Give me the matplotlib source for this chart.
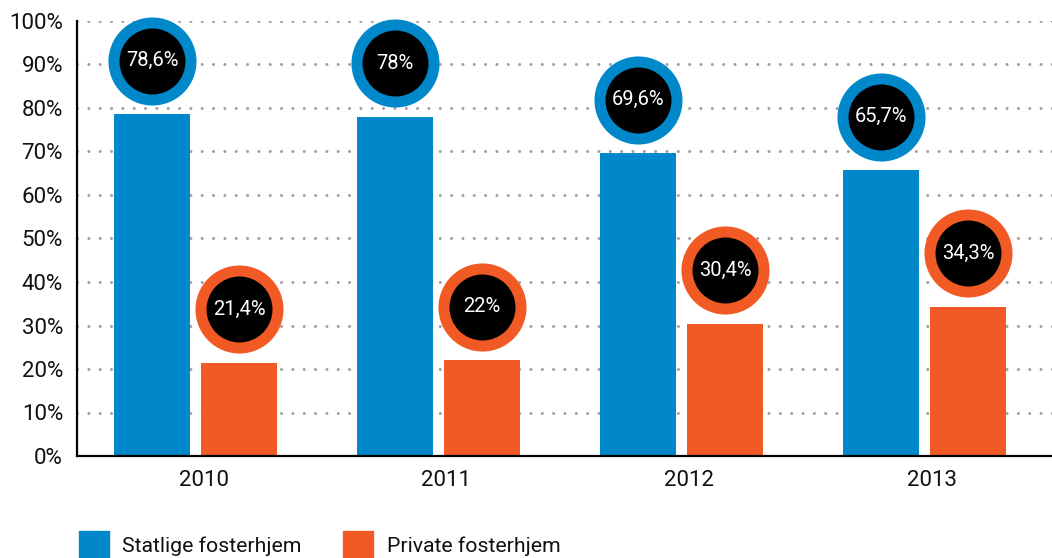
import numpy as np
import matplotlib
matplotlib.use("Agg")
import matplotlib.pyplot as plt
from matplotlib.patches import Rectangle

plt.rcParams["font.family"] = ["Roboto", "DejaVu Sans"]

# Data
years = ["2010", "2011", "2012", "2013"]
statlige = [78.6, 78.0, 69.6, 65.7]
private = [21.4, 22.0, 30.4, 34.3]
statlige_labels = ["78,6%", "78%", "69,6%", "65,7%"]
private_labels = ["21,4%", "22%", "30,4%", "34,3%"]
y_ticks = [0, 10, 20, 30, 40, 50, 60, 70, 80, 90, 100]
y_ticklabels = [f"{v}%" for v in y_ticks]

BLUE = "#0088CA"
ORANGE = "#F15A24"
GRID = "#A0A0A0"

fig = plt.figure(figsize=(10.52, 5.58), dpi=100)
ax = fig.add_axes([77 / 1052, 102 / 558, 975 / 1052, 435 / 558])

x = np.arange(len(years))
width = 0.313
offset = 0.179
circle_shift = 12.3

ax.bar(x - offset, statlige, width=width, color=BLUE, zorder=2)
ax.bar(x + offset, private, width=width, color=ORANGE, zorder=2)

# Sirkler med verdier over søylene
for xs, vals, labels, col in [(x - offset, statlige, statlige_labels, BLUE),
                              (x + offset, private, private_labels, ORANGE)]:
    yc = np.array(vals) + circle_shift
    ax.scatter(xs, yc, s=4020, color=col, linewidths=0, zorder=3, clip_on=False)
    ax.scatter(xs, yc, s=2258, color="black", linewidths=0, zorder=4, clip_on=False)
    for xi, yi, lab in zip(xs, yc, labels):
        ax.text(xi, yi, lab, color="white", fontsize=14.5, ha="center",
                va="center", zorder=5)

ax.set_xlim(-0.4877, 3.525)
ax.set_ylim(0, 100)
ax.set_yticks(y_ticks)
ax.set_yticklabels(y_ticklabels)
ax.set_xticks(x + 0.033)
ax.set_xticklabels(years)
ax.tick_params(axis="both", length=0, labelsize=16, colors="#111111")
ax.tick_params(axis="y", pad=10)
ax.tick_params(axis="x", pad=10)

ax.grid(axis="y", color=GRID, linestyle=(0, (0.01, 3.7)), linewidth=2.2,
        dash_capstyle="round", zorder=1)
ax.set_axisbelow(True)
# skjul 0%-linjen (grunnlinjen ligger der)
ax.yaxis.get_gridlines()[0].set_visible(False)

for side in ["top", "right"]:
    ax.spines[side].set_visible(False)
ax.spines["left"].set_linewidth(1.6)
ax.spines["bottom"].set_linewidth(1.6)

# Forklaring
fig.add_artist(Rectangle((79 / 1052, 1 - 561 / 558), 30 / 1052, 30 / 558,
                         color=BLUE, transform=fig.transFigure))
fig.text(122 / 1052, 1 - 546 / 558, "Statlige fosterhjem", fontsize=15.3,
         va="center", ha="left", color="#111111")
fig.add_artist(Rectangle((343 / 1052, 1 - 561 / 558), 30 / 1052, 30 / 558,
                         color=ORANGE, transform=fig.transFigure))
fig.text(387 / 1052, 1 - 546 / 558, "Private fosterhjem", fontsize=15.3,
         va="center", ha="left", color="#111111")

fig.savefig("out.png", dpi=100)
